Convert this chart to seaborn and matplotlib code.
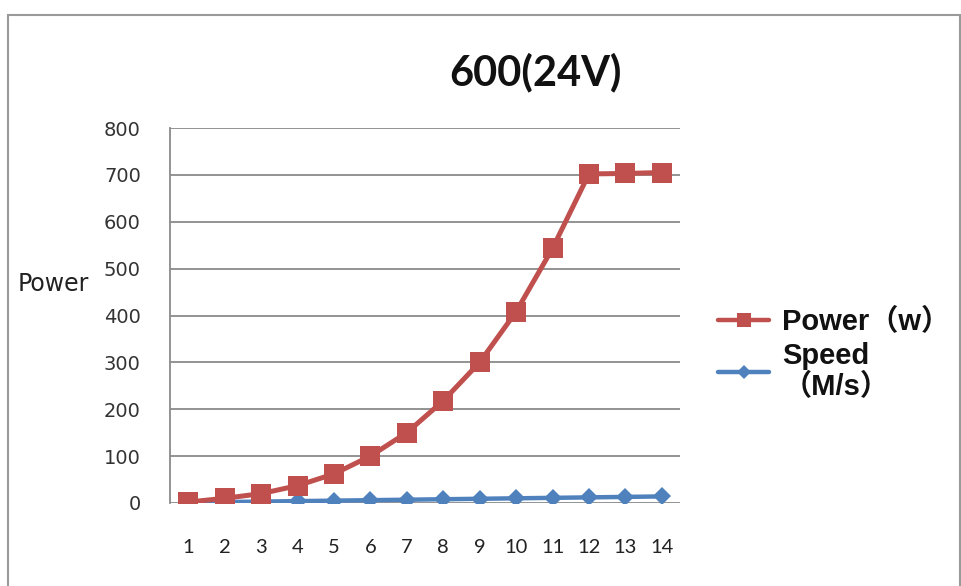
import matplotlib
matplotlib.use("Agg")
import matplotlib.pyplot as plt
from matplotlib.patches import Rectangle
from matplotlib.lines import Line2D
import seaborn as sns
import pandas as pd

categories = [1, 2, 3, 4, 5, 6, 7, 8, 9, 10, 11, 12, 13, 14]
power_w = [2, 10, 20, 37, 62, 100, 150, 218, 300, 408, 543, 702, 703, 705]
speed_ms = [1, 2, 3, 4, 5, 6, 7, 8, 9, 10, 11, 12, 13, 14]
y_ticks = [0, 100, 200, 300, 400, 500, 600, 700, 800]

power_label = "Power（w）"
speed_label = "Speed\n（M/s）"
title = "600(24V)"

df_power = pd.DataFrame({"x": categories, "y": power_w})
df_speed = pd.DataFrame({"x": categories, "y": speed_ms})

sns.set_theme(style="white")
plt.rcParams["font.family"] = ["DejaVu Sans", "Noto Sans CJK SC"]

W, H = 962, 586
fig = plt.figure(figsize=(W / 100, H / 100), dpi=100)
ax = fig.add_axes([170 / W, 1 - 503 / H, (680 - 170) / W, (503 - 128) / H])

red = "#C0504D"
blue = "#4F81BD"

sns.lineplot(data=df_speed, x="x", y="y", ax=ax, color=blue, linewidth=3.2,
             marker="D", markersize=9, markeredgewidth=0, zorder=3)
sns.lineplot(data=df_power, x="x", y="y", ax=ax, color=red, linewidth=3.6,
             marker="s", markersize=14, markeredgewidth=0, zorder=4)

ax.set_xlim(0.5, 14.5)
ax.set_ylim(0, 800)
ax.set_yticks(y_ticks)
ax.set_xticks(categories)
ax.set_xticklabels([str(c) for c in categories], fontsize=14.5, family=["Lato", "DejaVu Sans"], color="#222222")
ax.set_yticklabels([str(v) for v in y_ticks], fontsize=14, color="#333333")
ax.set_xlabel("")
ax.set_ylabel("")
ax.grid(axis="y", color="#8a8a8a", linewidth=1.3, zorder=1)
ax.grid(axis="x", visible=False)
for s in ["top", "right", "bottom"]:
    ax.spines[s].set_visible(False)
ax.spines["left"].set_color("#8a8a8a")
ax.spines["left"].set_linewidth(1.3)
ax.tick_params(axis="y", length=0, pad=21)
ax.tick_params(axis="x", length=0, pad=26)

fig.text(535 / W, 1 - 72 / H, title, ha="center", va="center", fontsize=30,
         family=["Lato", "DejaVu Sans"], fontweight="bold", color="#111111")
fig.text(18 / W, 1 - 284 / H, "Power", ha="left", va="center", fontsize=17, color="#222222")

handles = [
    Line2D([], [], color=red, linewidth=3.2, marker="s", markersize=10, markeredgewidth=0),
    Line2D([], [], color=blue, linewidth=3.2, marker="D", markersize=7, markeredgewidth=0),
]
leg = fig.legend(handles, [power_label, speed_label], loc="upper left",
                 bbox_to_anchor=(718 / W, 1 - 308 / H), frameon=False,
                 borderpad=0, borderaxespad=0, handlelength=1.75, handletextpad=0.45,
                 labelspacing=0.2,
                 prop={"family": ["Liberation Sans", "Noto Sans CJK SC"], "weight": "bold", "size": 21})
for t in leg.get_texts():
    t.set_color("#111111")
    t.set_linespacing(1.15)

fig.add_artist(Rectangle((8 / W, -0.05), (960 - 8) / W, 1.05 - 15 / H + 0.0,
                         transform=fig.transFigure, fill=False, edgecolor="#9a9a9a", linewidth=1.5))

fig.savefig("out.png", dpi=100)
